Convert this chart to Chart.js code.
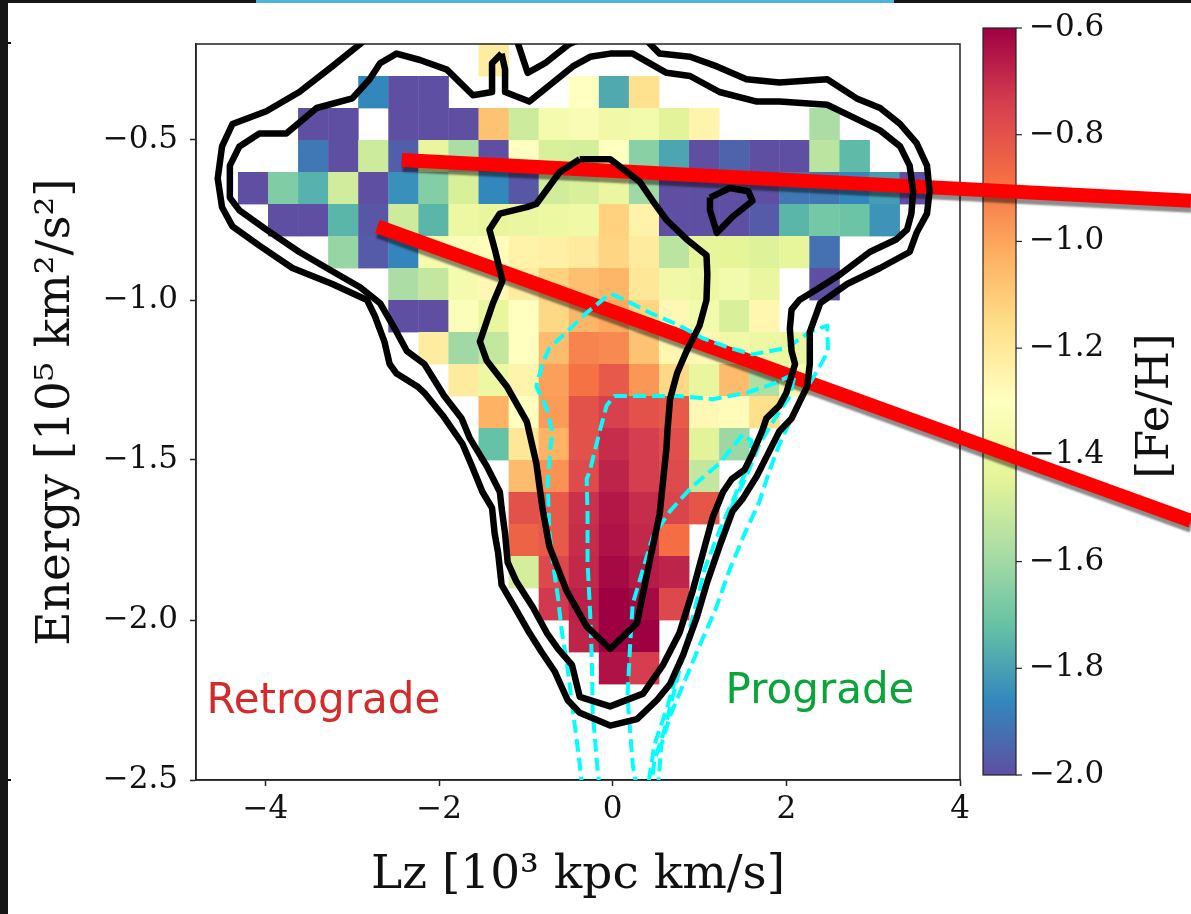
<!DOCTYPE html>
<html>
<head>
<meta charset="utf-8">
<script src="https://cdn.jsdelivr.net/npm/chart.js@4.4.1/dist/chart.umd.min.js"></script>
<style>
  html, body { margin: 0; padding: 0; background: #fff; overflow: hidden; }
  #energyPlot { display: block; }
</style>
</head>
<body>
<canvas id="energyPlot" width="1191" height="914"></canvas>
<script>
const _ = null;

// Lz bins (10^3 kpc km/s) and energy rows (10^5 km^2/s^2)
const lzStart = -4.317;
const lzWidth = 0.3464;
const eStart = -0.2;
const eHeight = 0.1;

// mean [Fe/H] per bin, first row is the highest energy
const fehGrid = [
  [_,_,_,_,_,_,_,_,-1.22,_,_,_,_,_,_,_,_,_,_,_,_,_,_],
  [_,_,_,_,-1.86,-2.0,-2.0,_,_,_,_,-1.30,-1.78,-1.17,_,_,_,_,_,_,_,_,_],
  [_,_,-2.0,-2.0,_,-2.0,-2.0,-2.0,-1.08,-1.50,-1.36,-1.34,-1.38,-1.37,-1.45,-1.25,_,_,_,-1.58,_,_,_],
  [_,_,-1.90,-2.0,-1.50,-1.96,-1.42,-1.58,-2.0,-1.30,-1.47,-1.48,-1.30,-1.65,-1.79,-2.0,-1.95,-2.0,-2.0,-1.54,-1.74,_,_],
  [-2.0,-1.67,-1.76,-1.49,-2.0,-1.84,-1.66,-1.47,-1.86,-1.98,-1.49,-1.47,-1.41,-1.60,-2.0,-2.0,-2.0,-2.0,-1.90,-1.90,-1.86,-1.81,-2.0],
  [_,-2.0,-2.0,-1.75,-1.98,-1.50,-1.75,-1.40,-1.42,-1.41,-1.40,-1.39,-1.12,-1.24,-2.0,-2.0,-2.0,-1.97,-1.75,-1.69,-1.71,-1.83,_],
  [_,_,_,-1.62,-1.97,-1.87,-1.36,-1.33,-1.29,-1.24,-1.23,-1.21,-1.13,-1.21,-1.54,-1.43,-1.44,-1.46,-1.43,-1.92,_,_,_],
  [_,_,_,_,_,-1.58,-1.52,-1.36,-1.27,-1.22,-1.12,-1.07,-1.04,-1.19,-1.38,-1.40,-1.37,-1.41,_,-2.0,_,_,_],
  [_,_,_,_,_,-2.0,-2.0,-1.32,-1.42,-1.30,-1.14,-1.04,-1.01,-1.13,-1.27,-1.37,-1.47,-1.26,_,_,_,_,_],
  [_,_,_,_,_,_,-1.22,-1.60,-1.52,-1.30,-1.06,-0.93,-0.94,-1.08,-1.26,-1.27,-1.38,-1.40,-1.41,_,_,_,_],
  [_,_,_,_,_,_,_,-1.21,-1.40,-1.25,-0.99,-0.89,-0.82,-0.97,-1.14,-1.42,-1.06,-1.57,-1.35,_,_,_,_],
  [_,_,_,_,_,_,_,_,-1.03,-1.30,-0.98,-0.80,-0.75,-0.80,-0.82,-1.27,-1.28,-1.16,_,_,_,_,_],
  [_,_,_,_,_,_,_,_,-1.72,-1.19,-1.03,-0.80,-0.70,-0.74,-0.79,-1.45,-1.61,_,_,_,_,_,_],
  [_,_,_,_,_,_,_,_,_,-1.06,-0.96,-0.78,-0.68,-0.74,-0.78,-1.52,_,_,_,_,_,_,_],
  [_,_,_,_,_,_,_,_,_,-0.80,-0.82,-0.71,-0.65,-0.70,-0.76,-0.81,_,_,_,_,_,_,_],
  [_,_,_,_,_,_,_,_,_,-0.85,-0.82,-0.70,-0.64,-0.69,-0.88,_,_,_,_,_,_,_,_],
  [_,_,_,_,_,_,_,_,_,-1.48,-0.77,-0.69,-0.62,-0.66,-0.68,_,_,_,_,_,_,_,_],
  [_,_,_,_,_,_,_,_,_,_,-0.73,-0.67,-0.60,-0.62,-0.77,_,_,_,_,_,_,_,_],
  [_,_,_,_,_,_,_,_,_,_,_,-0.68,-0.60,-0.60,_,_,_,_,_,_,_,_,_],
  [_,_,_,_,_,_,_,_,_,_,_,_,-0.64,-0.74,_,_,_,_,_,_,_,_,_]
];

// density contours of the whole sample (solid) and of the accreted debris (dashed)
const contourOuter = [
  [-1.13,-0.16],[-1.09,-0.20],[-0.98,-0.29],[-0.78,-0.26],[-0.50,-0.20],[-0.15,-0.16],[0.37,-0.18],
  [0.43,-0.20],[0.54,-0.23],[0.89,-0.24],[1.20,-0.27],[1.54,-0.31],[1.92,-0.32],[2.47,-0.31],
  [2.81,-0.37],[3.08,-0.40],[3.31,-0.45],[3.50,-0.51],[3.62,-0.58],[3.65,-0.66],[3.62,-0.73],
  [3.50,-0.79],[3.42,-0.85],[3.08,-0.90],[2.70,-0.95],[2.39,-1.01],[2.27,-1.10],[2.27,-1.20],
  [2.24,-1.27],[2.15,-1.32],[2.06,-1.37],[1.92,-1.41],[1.79,-1.48],[1.66,-1.55],[1.50,-1.62],
  [1.38,-1.66],[1.23,-1.77],[1.09,-1.88],[0.97,-1.99],[0.81,-2.11],[0.66,-2.20],[0.51,-2.25],
  [0.28,-2.31],[-0.03,-2.33],[-0.38,-2.29],[-0.52,-2.25],[-0.67,-2.16],[-0.82,-2.10],[-0.96,-2.04],
  [-1.13,-1.96],[-1.28,-1.89],[-1.32,-1.79],[-1.36,-1.73],[-1.39,-1.65],[-1.50,-1.60],[-1.62,-1.52],
  [-1.73,-1.45],[-1.96,-1.36],[-2.17,-1.29],[-2.25,-1.27],[-2.49,-1.23],[-2.57,-1.20],[-2.63,-1.13],
  [-2.74,-1.05],[-2.83,-1.00],[-3.23,-0.95],[-3.69,-0.90],[-4.07,-0.83],[-4.38,-0.77],[-4.50,-0.71],
  [-4.55,-0.62],[-4.50,-0.52],[-4.38,-0.45],[-3.99,-0.41],[-3.61,-0.35],[-3.23,-0.27],[-2.91,-0.20],
  [-2.74,-0.16],[-1.13,-0.16]
];
const contourMid = [
  [-1.28,-0.23],[-1.24,-0.28],[-1.24,-0.35],[-0.96,-0.38],[-0.46,-0.27],[-0.26,-0.24],[-0.03,-0.23],
  [0.23,-0.23],[0.62,-0.29],[0.89,-0.30],[1.23,-0.35],[1.66,-0.38],[1.92,-0.38],[2.47,-0.39],
  [2.70,-0.42],[3.08,-0.47],[3.31,-0.52],[3.42,-0.58],[3.46,-0.66],[3.44,-0.73],[3.39,-0.78],
  [3.27,-0.81],[2.96,-0.85],[2.62,-0.92],[2.39,-0.96],[2.15,-1.00],[2.06,-1.03],[2.04,-1.09],
  [2.06,-1.16],[2.10,-1.20],[2.00,-1.29],[1.92,-1.33],[1.77,-1.37],[1.72,-1.41],[1.61,-1.48],
  [1.52,-1.53],[1.37,-1.56],[1.27,-1.60],[1.15,-1.68],[1.04,-1.79],[0.92,-1.91],[0.77,-2.04],
  [0.58,-2.14],[0.35,-2.23],[-0.03,-2.27],[-0.38,-2.24],[-0.47,-2.14],[-0.63,-2.09],[-0.76,-2.04],
  [-0.92,-1.96],[-1.11,-1.88],[-1.21,-1.82],[-1.24,-1.73],[-1.28,-1.65],[-1.30,-1.60],[-1.45,-1.52],
  [-1.65,-1.43],[-1.74,-1.37],[-1.94,-1.30],[-2.17,-1.20],[-2.37,-1.16],[-2.51,-1.09],[-2.68,-1.01],
  [-2.91,-0.96],[-3.23,-0.91],[-3.61,-0.85],[-3.99,-0.78],[-4.30,-0.72],[-4.41,-0.68],[-4.41,-0.58],
  [-4.30,-0.52],[-4.07,-0.48],[-3.76,-0.48],[-3.41,-0.40],[-3.00,-0.37],[-2.80,-0.31],[-2.68,-0.26],
  [-2.49,-0.23],[-2.22,-0.25],[-1.91,-0.28],[-1.61,-0.36],[-1.39,-0.35],[-1.39,-0.26],[-1.28,-0.23]
];
const contourInner = [
  [-0.38,-0.56],[-0.03,-0.56],[0.31,-0.63],[0.46,-0.69],[0.62,-0.75],[0.85,-0.81],[1.08,-0.86],
  [1.09,-0.92],[1.08,-1.00],[1.00,-1.08],[0.85,-1.16],[0.74,-1.23],[0.66,-1.31],[0.63,-1.41],
  [0.62,-1.46],[0.54,-1.67],[0.43,-1.81],[0.28,-2.01],[-0.03,-2.09],[-0.30,-2.02],[-0.53,-1.91],
  [-0.73,-1.77],[-0.81,-1.65],[-0.88,-1.51],[-0.99,-1.38],[-1.22,-1.27],[-1.45,-1.19],[-1.53,-1.13],
  [-1.38,-1.01],[-1.27,-0.94],[-1.36,-0.84],[-1.42,-0.78],[-1.30,-0.73],[-0.99,-0.71],[-0.88,-0.70],
  [-0.61,-0.60],[-0.38,-0.56]
];
const contourIsland = [
  [1.12,-0.68],[1.35,-0.65],[1.56,-0.66],[1.61,-0.69],[1.38,-0.74],[1.20,-0.79],[1.12,-0.72],[1.12,-0.68]
];
const debrisOuter = [
  [-0.35,-2.53],[-0.38,-2.45],[-0.47,-2.26],[-0.53,-2.13],[-0.59,-2.03],[-0.63,-1.93],[-0.69,-1.82],
  [-0.73,-1.72],[-0.75,-1.57],[-0.70,-1.41],[-0.76,-1.34],[-0.88,-1.27],[-0.81,-1.20],[-0.73,-1.15],
  [-0.53,-1.10],[-0.30,-1.04],[-0.03,-0.98],[0.14,-1.00],[0.43,-1.04],[0.77,-1.08],[1.04,-1.12],
  [1.35,-1.15],[1.61,-1.17],[2.00,-1.15],[2.27,-1.10],[2.47,-1.08],[2.48,-1.16],[2.38,-1.21],
  [2.27,-1.26],[2.15,-1.31],[2.04,-1.38],[1.92,-1.45],[1.81,-1.53],[1.69,-1.63],[1.52,-1.73],
  [1.35,-1.84],[1.18,-1.97],[1.00,-2.08],[0.83,-2.19],[0.66,-2.30],[0.56,-2.39],[0.52,-2.53]
];
const debrisMid = [
  [-0.15,-2.53],[-0.18,-2.45],[-0.23,-2.29],[-0.24,-2.13],[-0.26,-1.98],[-0.29,-1.82],[-0.29,-1.67],
  [-0.30,-1.56],[-0.26,-1.53],[-0.15,-1.41],[-0.07,-1.33],[0.02,-1.30],[0.39,-1.30],[0.77,-1.30],
  [1.15,-1.31],[1.54,-1.29],[1.87,-1.26],[2.10,-1.23],[2.04,-1.30],[1.87,-1.37],[1.69,-1.45],
  [1.54,-1.55],[1.38,-1.64],[1.21,-1.77],[1.06,-1.89],[0.92,-2.02],[0.77,-2.14],[0.63,-2.27],
  [0.48,-2.39],[0.40,-2.53]
];
const debrisInner = [
  [0.28,-2.53],[0.23,-2.45],[0.17,-2.24],[0.20,-2.08],[0.23,-1.95],[0.35,-1.84],[0.46,-1.74],
  [0.66,-1.66],[0.89,-1.59],[1.23,-1.51],[1.50,-1.42],[1.60,-1.44],[1.56,-1.52],[1.41,-1.61],
  [1.23,-1.72],[1.06,-1.84],[0.94,-1.97],[0.83,-2.09],[0.71,-2.22],[0.60,-2.34],[0.48,-2.44],
  [0.44,-2.53]
];

// the two cuts that extend past the axes
const cutUpper = [[-2.43,-0.5625],[6.66,-0.69]];
const cutLower = [[-2.71,-0.77],[6.66,-1.69]];

const fehMin = -2.0;
const fehMax = -0.6;
const cbarTicks = [-0.6,-0.8,-1.0,-1.2,-1.4,-1.6,-1.8,-2.0];

const regionLabels = [
  {text: 'Retrograde', x: -4.68, y: -2.29, color: '#d42a2a'},
  {text: 'Prograde', x: 1.30, y: -2.26, color: '#0aa53a'}
];

const spectral = ['#9e0142','#d53e4f','#f46d43','#fdae61','#fee08b','#ffffbf','#e6f598','#abdda4','#66c2a5','#3288bd','#5e4fa2'];
const spectralRgb = spectral.map(h => [1, 3, 5].map(i => parseInt(h.substr(i, 2), 16)));

function spectralAt(t) {
  t = Math.min(1, Math.max(0, t));
  const p = t * 10;
  const i = Math.min(9, Math.floor(p));
  const f = p - i;
  const a = spectralRgb[i], b = spectralRgb[i + 1];
  const c = a.map((v, k) => Math.round(v + (b[k] - v) * f));
  return 'rgb(' + c.join(',') + ')';
}

function fehColor(v) {
  return spectralAt((fehMax - v) / (fehMax - fehMin));
}

function minus(v, digits) {
  const s = Math.abs(v).toFixed(digits);
  return v < 0 && Number(s) !== 0 ? '\u2212' + s : s;
}

function lineSet(points, color, width, dash, clip) {
  return {
    data: points.map(p => ({x: p[0], y: p[1]})),
    showLine: true,
    borderColor: color,
    borderWidth: width,
    borderDash: dash,
    borderJoinStyle: 'round',
    pointRadius: 0,
    pointHoverRadius: 0,
    tension: 0,
    fill: false,
    clip: clip
  };
}

const serif = 'DejaVu Serif';
const tickFont = 31;

const backdrop = {
  id: 'backdrop',
  beforeDraw(chart) {
    const ctx = chart.ctx;
    ctx.save();
    ctx.fillStyle = '#ffffff';
    ctx.fillRect(0, 0, chart.width, chart.height);
    ctx.fillStyle = '#161616';
    ctx.fillRect(0, 0, 8, chart.height);
    ctx.fillRect(0, 0, chart.width, 3);
    ctx.fillStyle = '#4cb3e4';
    ctx.fillRect(256, 0, 638, 3);
    ctx.fillStyle = '#000';
    ctx.fillRect(8, 42, 3, 2);
    ctx.fillRect(8, 779, 3, 2);
    ctx.restore();
  }
};

const heatmap = {
  id: 'heatmap',
  beforeDatasetsDraw(chart) {
    const {ctx, chartArea: a, scales: {x, y}} = chart;
    ctx.save();
    ctx.beginPath();
    ctx.rect(a.left, a.top, a.right - a.left, a.bottom - a.top);
    ctx.clip();
    fehGrid.forEach((row, r) => {
      row.forEach((v, c) => {
        if (v === null) return;
        const x0 = x.getPixelForValue(lzStart + c * lzWidth);
        const x1 = x.getPixelForValue(lzStart + (c + 1) * lzWidth);
        const y0 = y.getPixelForValue(eStart - r * eHeight);
        const y1 = y.getPixelForValue(eStart - (r + 1) * eHeight);
        ctx.fillStyle = fehColor(v);
        ctx.fillRect(x0, y0, x1 - x0 + 0.4, y1 - y0 + 0.4);
      });
    });
    ctx.restore();

    // axes frame
    ctx.save();
    ctx.strokeStyle = '#222';
    ctx.lineWidth = 1.5;
    ctx.strokeRect(a.left, a.top, a.right - a.left, a.bottom - a.top);
    ctx.restore();

    // colour bar
    const bx = 983, bw = 33, bTop = 28, bBot = 775;
    const grad = ctx.createLinearGradient(0, bTop, 0, bBot);
    for (let i = 0; i <= 10; i++) grad.addColorStop(i / 10, spectral[i]);
    ctx.save();
    ctx.fillStyle = grad;
    ctx.fillRect(bx, bTop, bw, bBot - bTop);
    ctx.strokeStyle = '#222';
    ctx.lineWidth = 1.2;
    ctx.strokeRect(bx, bTop, bw, bBot - bTop);
    ctx.fillStyle = '#111';
    ctx.font = tickFont + 'px "' + serif + '"';
    ctx.textAlign = 'left';
    ctx.textBaseline = 'middle';
    cbarTicks.forEach(v => {
      const ty = bTop + (fehMax - v) / (fehMax - fehMin) * (bBot - bTop);
      ctx.beginPath();
      ctx.moveTo(bx + bw, ty);
      ctx.lineTo(bx + bw + 6, ty);
      ctx.stroke();
      ctx.fillText(minus(v, 1), bx + bw + 13, ty);
    });
    ctx.translate(1156, 406);
    ctx.rotate(-Math.PI / 2);
    ctx.textAlign = 'center';
    ctx.font = '45px "' + serif + '"';
    ctx.fillText('[Fe/H]', 0, 0);
    ctx.restore();
  },
  afterDatasetsDraw(chart) {
    const {ctx, scales: {x, y}} = chart;
    ctx.save();
    ctx.font = '42px "DejaVu Sans"';
    ctx.textAlign = 'left';
    ctx.textBaseline = 'alphabetic';
    regionLabels.forEach(l => {
      ctx.fillStyle = l.color;
      ctx.fillText(l.text, x.getPixelForValue(l.x), y.getPixelForValue(l.y));
    });
    ctx.restore();
  },
  beforeDatasetDraw(chart, args) {
    const ds = chart.data.datasets[args.index];
    if (!ds.shadow) return;
    const ctx = chart.ctx;
    ctx.save();
    ctx.shadowColor = 'rgba(0,0,0,0.45)';
    ctx.shadowOffsetX = 1;
    ctx.shadowOffsetY = 5;
    ctx.shadowBlur = 2;
  },
  afterDatasetDraw(chart, args) {
    const ds = chart.data.datasets[args.index];
    if (ds.shadow) chart.ctx.restore();
  }
};

const upper = lineSet(cutUpper, '#ff0000', 14, [], false);
const lower = lineSet(cutLower, '#ff0000', 14, [], false);
upper.shadow = true;
lower.shadow = true;
upper.borderCapStyle = 'butt';
lower.borderCapStyle = 'butt';

const dash = [13, 6];

new Chart(document.getElementById('energyPlot'), {
  type: 'scatter',
  data: {
    datasets: [
      lineSet(contourOuter, '#000', 6.5, [], 0),
      lineSet(contourMid, '#000', 6.5, [], 0),
      lineSet(contourInner, '#000', 6.5, [], 0),
      lineSet(contourIsland, '#000', 6.5, [], 0),
      lineSet(debrisOuter, '#00ffff', 4, dash, 0),
      lineSet(debrisMid, '#00ffff', 4, dash, 0),
      lineSet(debrisInner, '#00ffff', 4, dash, 0),
      upper,
      lower
    ]
  },
  options: {
    responsive: false,
    devicePixelRatio: 1,
    animation: false,
    events: [],
    layout: {padding: {left: 0, top: 44, right: 231, bottom: 0}},
    plugins: {legend: {display: false}, tooltip: {enabled: false}},
    scales: {
      x: {
        type: 'linear',
        min: -4.8,
        max: 4,
        afterFit(scale) { scale.height = 134; },
        ticks: {
          stepSize: 2,
          includeBounds: false,
          padding: 5,
          color: '#111',
          font: {family: serif, size: tickFont},
          callback: v => minus(v, 0)
        },
        grid: {drawOnChartArea: false, tickLength: 6, tickWidth: 1.5, tickColor: '#222'},
        border: {color: '#222', width: 1.5},
        title: {
          display: true,
          text: 'Lz [10\u00b3 kpc km/s]',
          color: '#111',
          font: {family: serif, size: 47},
          padding: {top: 0, bottom: 10}
        }
      },
      y: {
        type: 'linear',
        min: -2.5,
        max: -0.2,
        afterFit(scale) { scale.width = 196; },
        ticks: {
          stepSize: 0.5,
          includeBounds: false,
          padding: 12,
          color: '#111',
          font: {family: serif, size: tickFont},
          callback: v => minus(v, 1)
        },
        grid: {drawOnChartArea: false, tickLength: 6, tickWidth: 1.5, tickColor: '#222'},
        border: {color: '#222', width: 1.5},
        title: {
          display: true,
          text: 'Energy [10\u2075 km\u00b2/s\u00b2]',
          color: '#111',
          font: {family: serif, size: 47},
          padding: {top: 29, bottom: 0}
        }
      }
    }
  },
  plugins: [backdrop, heatmap]
});
</script>
</body>
</html>
